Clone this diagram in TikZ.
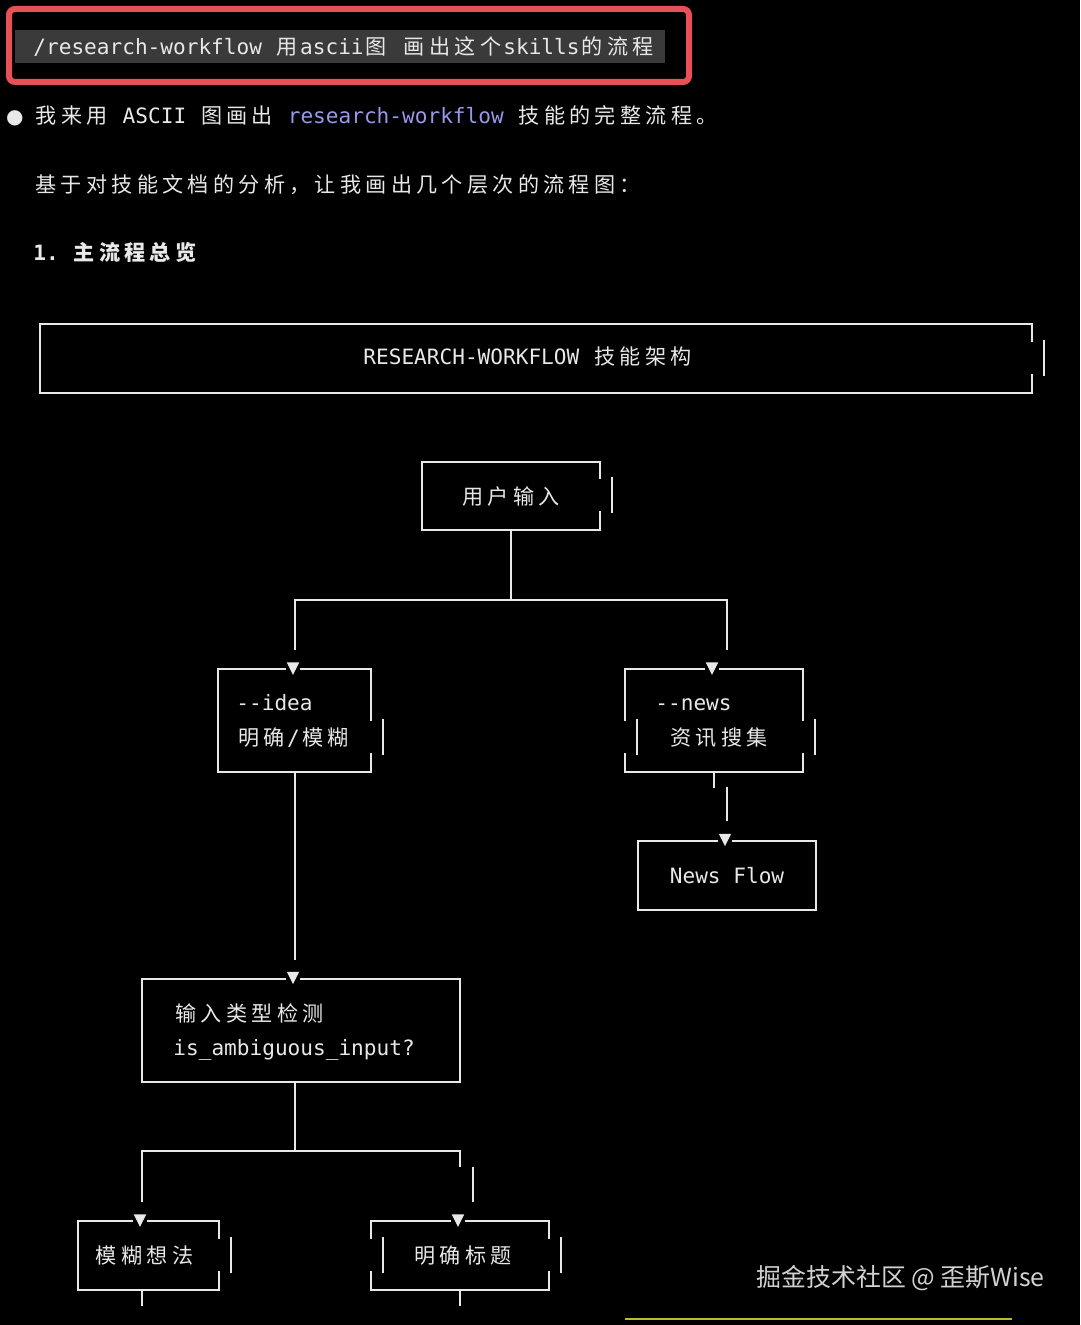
\documentclass[tikz,border=0pt]{standalone}
\usepackage{fontspec}
\setmonofont{DejaVu Sans Mono}
\newfontfamily\cjkfont{Noto Sans CJK SC}
\newfontfamily\symfont{DejaVu Sans}
\usetikzlibrary{positioning}

\definecolor{fg}{RGB}{232,232,232}
\definecolor{hilite}{RGB}{58,58,58}
\definecolor{promptred}{RGB}{232,80,88}
\definecolor{cmdblue}{RGB}{152,152,236}
\definecolor{statusyellow}{RGB}{200,180,40}
\definecolor{markgray}{RGB}{210,210,210}

\newcommand{\px}{0.5pt}
\newlength{\zhcell}
\setlength{\zhcell}{12.7pt}
\newcommand{\term}{\ttfamily\fontsize{10.55}{12}\selectfont}
% each CJK glyph takes two terminal cells
\newcommand{\zh}[1]{{\cjkfont\zhloop#1\relax}}
\def\zhloop#1{\ifx#1\relax\else\makebox[\zhcell]{#1}\expandafter\zhloop\fi}
% ascii boxes whose side got shifted by wide glyphs
\newcommand{\brokeneast}[1]{%
  \draw[frame] (#1.north east) -- ([yshift=26pt]#1.south east);
  \draw[frame] (#1.south east) -- ([yshift=9pt]#1.south east);
  \draw[frame] ([xshift=6pt,yshift=9pt]#1.south east) -- ([xshift=6pt,yshift=26pt]#1.south east);}
\newcommand{\brokenwest}[1]{%
  \draw[frame] (#1.north west) -- ([yshift=26pt]#1.south west);
  \draw[frame] (#1.south west) -- ([yshift=9pt]#1.south west);
  \draw[frame] ([xshift=6pt,yshift=9pt]#1.south west) -- ([xshift=6pt,yshift=26pt]#1.south west);}
\newcommand{\tipdown}[1]{%
  \fill[black] ([xshift=-3.6pt,yshift=0.8pt]#1) rectangle ([xshift=3.6pt,yshift=-0.8pt]#1);
  \fill[fg] ([xshift=-3.1pt,yshift=3.1pt]#1) -- ++(6.2pt,0) -- ([yshift=-3.1pt]#1) -- cycle;}

\begin{document}
\begin{tikzpicture}[x=0.5pt, y=-0.5pt]
\tikzset{
    txt/.style = {anchor=base west, inner sep=0, text=fg, font=\term},
    box/.style = {inner sep=0, text=fg, font=\term},
    frame/.style = {draw=fg, line width=1pt, line cap=rect},
    link/.style = {draw=fg, line width=1pt},
}
\fill[black] (0,0) rectangle (1080,1325);
\useasboundingbox (0,0) rectangle (1080,1325);

% -------------------------------------------------------
\fill[hilite] (15,30) rectangle (665,63);
\draw[promptred, line width=3pt, rounded corners=3pt] (9,9) rectangle (689,82);
\node[txt] (prompt) at (33,55) {/research-workflow \zh{用}ascii\zh{图} \zh{画出这个}skills\zh{的流程}};

\node[txt] (intro) at (8,124) {\makebox[6.35pt]{\symfont\fontsize{10}{11}\selectfont ●} \zh{我来用} ASCII \zh{图画出} \textcolor{cmdblue}{research-workflow} \zh{技能的完整流程。}};
\node[txt] (basis) at (33,193) {\zh{基于对技能文档的分析，让我画出几个层次的流程图：}};
\node[txt] (heading) at (33,261) {\bfseries 1. \zh{主流程总览}};

% -------------------------------------------------------
\node[box, minimum width=992*\px, minimum height=69*\px] (title) at (536,358.5) {};
\node[txt] (titletext) at (363,365) {RESEARCH-WORKFLOW \zh{技能架构}};

\node[box, minimum width=178*\px, minimum height=68*\px] (user) at (511,496) {\zh{用户输入}};

\node[box, minimum width=153*\px, minimum height=103*\px] (idea) at (294.5,720.5) {};
\node[txt] (ideaflag) at (236,710) {-{}-idea};
\node[txt] (ideamode) at (236,745) {\zh{明确}/\zh{模糊}};

\node[box, minimum width=178*\px, minimum height=103*\px] (news) at (714,720.5) {};
\node[txt] (newsflag) at (655,710) {-{}-news};
\node[txt] (newsmode) at (668,745) {\zh{资讯搜集}};

\node[box, draw=fg, line width=1pt, minimum width=178*\px, minimum height=69*\px] (newsflow) at (727,875.5) {News Flow};

\node[box, draw=fg, line width=1pt, minimum width=318*\px, minimum height=103*\px] (detect) at (301,1030.5) {};
\node[txt] (detectname) at (173,1021) {\zh{输入类型检测}};
\node[txt] (detectfunc) at (173,1055) {is\_ambiguous\_input?};

\node[box, minimum width=141*\px, minimum height=69*\px] (vague) at (148.5,1255.5) {\hspace*{-4pt}\zh{模糊想法}};
\node[box, minimum width=178*\px, minimum height=69*\px] (clear) at (460,1255.5) {\hspace*{3pt}\zh{明确标题}};

\node[anchor=base east, inner sep=0, text=markgray, font=\cjkfont\fontsize{12.45}{15}\selectfont] (mark) at (1045,1286) {掘金技术社区 @ 歪斯Wise};

% -------------------------------------------------------
\draw[frame] (title.north east) -- (title.north west) -- (title.south west) -- (title.south east);
\brokeneast{title}
\draw[frame] (user.north east) -- (user.north west) -- (user.south west) -- (user.south east);
\brokeneast{user}
\draw[frame] (idea.north east) -- (idea.north west) -- (idea.south west) -- (idea.south east);
\brokeneast{idea}
\draw[frame] (news.north west) -- (news.north east);
\draw[frame] (news.south west) -- (news.south east);
\brokeneast{news}
\brokenwest{news}
\draw[frame] (vague.north east) -- (vague.north west) -- (vague.south west) -- (vague.south east);
\brokeneast{vague}
\draw[frame] (clear.north west) -- (clear.north east);
\draw[frame] (clear.south west) -- (clear.south east);
\brokeneast{clear}
\brokenwest{clear}

% -------------------------------------------------------
\coordinate (ideatip) at ([xshift=-0.75pt]idea.north);
\coordinate (newstip) at ([xshift=-1pt]news.north);
\coordinate (flowtip) at ([xshift=-1pt]newsflow.north);
\coordinate (detecttip) at ([xshift=-4pt]detect.north);
\coordinate (vaguetip) at ([xshift=-4.25pt]vague.north);
\coordinate (cleartip) at ([xshift=-1pt]clear.north);

\coordinate (fork1) at (511,600);
\coordinate (ideain) at (295,650);
\coordinate (newsin) at (727,650);
\path[link] (user.south) -- (fork1);
\path[link] (ideain) |- (fork1) -| (newsin);
\tipdown{ideatip}
\tipdown{newstip}

\path[link] (news.south) -- ++(0,16);
\path[link] ([yshift=9.5pt]newsflow.north) -- ([yshift=26.5pt]newsflow.north);
\tipdown{flowtip}

\path[link] (idea.south) -- ++(0,188);
\tipdown{detecttip}

\coordinate (fork2) at (295,1151);
\coordinate (vaguein) at (142,1202);
\coordinate (clearin) at (460,1167);
\coordinate (clearjog) at (473,1167);
\path[link] ([xshift=-3pt]detect.south) -- (fork2);
\path[link] (vaguein) |- (fork2) -| (clearin);
\path[link] (clearjog) -- ++(0,35);
\tipdown{vaguetip}
\tipdown{cleartip}

\path[link] ([xshift=-3.25pt]vague.south) -- ++(0,16);
\path[link] (clear.south) -- ++(0,16);

\draw[statusyellow, line width=1pt] (625,1319) -- (1012,1319);
\end{tikzpicture}
\end{document}
